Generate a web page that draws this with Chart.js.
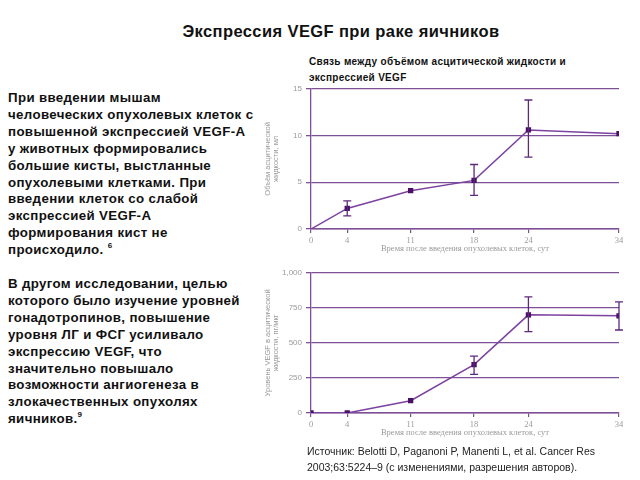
<!DOCTYPE html>
<html>
<head>
<meta charset="utf-8">
<script src="https://cdn.jsdelivr.net/npm/chart.js@4"></script>
<style>
  body { margin: 0; width: 640px; height: 480px; background: #fff; position: relative; overflow: hidden; font-family: "Liberation Sans", Arial, sans-serif; }
  #title { position: absolute; left: 0; width: 682px; top: 22px; text-align: center; font-weight: bold; font-size: 16.5px; letter-spacing: 0.4px; color: #111; }
  #text { position: absolute; left: 8px; top: 90px; width: 270px; font-weight: bold; font-size: 13.3px; letter-spacing: 0.35px; line-height: 16.9px; color: #111; }
  #text sup { font-size: 8px; vertical-align: 6px; line-height: 0; }
  #sub { position: absolute; left: 309px; top: 54px; font-weight: bold; font-size: 10px; line-height: 16px; color: #111; letter-spacing: 0.32px; }
  #source { position: absolute; left: 307px; top: 443px; font-size: 10.5px; line-height: 16px; color: #222; }
  canvas { position: absolute; }
  #c1 { left: 258px; top: 80px; }
  #c2 { left: 258px; top: 264px; }
</style>
</head>
<body>
<div id="title">Экспрессия VEGF при раке яичников</div>
<div id="sub">Связь между объёмом асцитической жидкости и<br>экспрессией VEGF</div>
<div id="text">При введении мышам<br>человеческих опухолевых клеток с<br>повышенной экспрессией VEGF-A<br>у животных формировались<br>большие кисты, выстланные<br>опухолевыми клетками. При<br>введении клеток со слабой<br>экспрессией VEGF-A<br>формирования кист не<br>происходило. <sup>6</sup><br><br>В другом исследовании, целью<br>которого было изучение уровней<br>гонадотропинов, повышение<br>уровня ЛГ и ФСГ усиливало<br>экспрессию VEGF, что<br>значительно повышало<br>возможности ангиогенеза в<br>злокачественных опухолях<br>яичников.<sup>9</sup></div>
<canvas id="c1" width="380" height="180"></canvas>
<canvas id="c2" width="380" height="180"></canvas>
<div id="source">Источник: Belotti D, Paganoni P, Manenti L, et al. Cancer Res<br>2003;63:5224–9 (с изменениями, разрешения авторов).</div>
<script>
const days = [0, 4, 11, 18, 24, 34];
const volume = [0, 2.2, 4.1, 5.2, 10.6, 10.2];
const volumeLow = [null, 1.4, null, 3.6, 7.7, null];
const volumeHigh = [null, 3.0, null, 6.9, 13.8, null];
const vegf = [0, 0, 88, 345, 700, 693];
const vegfLow = [null, null, null, 275, 580, 592];
const vegfHigh = [null, null, null, 405, 828, 793];
const volumeTicks = [0, 5, 10, 15];
const vegfTicks = [0, 250, 500, 750, 1000];
const xTitle = "Время после введения опухолевых клеток, сут";

const gridPurple = "#7e5196";
const linePurple = "#7d42a0";
const markPurple = "#4a1068";
const greyText = "#9a9a9a";

Chart.defaults.font.family = "'Liberation Sans', Arial, sans-serif";

// vertical error bars with small caps, drawn after the line
const errorBars = {
  id: "errorBars",
  afterDatasetsDraw(chart) {
    const ctx = chart.ctx;
    const xs = chart.scales.x, ys = chart.scales.y;
    chart.data.datasets.forEach(ds => {
      ds.data.forEach((p, i) => {
        if (ds.errLow[i] == null) return;
        const x = xs.getPixelForValue(p.x);
        const y1 = ys.getPixelForValue(ds.errLow[i]);
        const y2 = ys.getPixelForValue(ds.errHigh[i]);
        ctx.save();
        ctx.strokeStyle = "#5b2a7a";
        ctx.lineWidth = 1.3;
        ctx.beginPath();
        ctx.moveTo(x, y1); ctx.lineTo(x, y2);
        ctx.moveTo(x - 4, y1); ctx.lineTo(x + 4, y1);
        ctx.moveTo(x - 4, y2); ctx.lineTo(x + 4, y2);
        ctx.stroke();
        ctx.restore();
      });
    });
  }
};

function makeChart(id, values, low, high, yTicks, yTitle, firstPoint, fmt) {
  return new Chart(document.getElementById(id), {
    type: "line",
    data: {
      datasets: [{
        data: days.map((d, i) => ({ x: d, y: values[i] })),
        errLow: low,
        errHigh: high,
        borderColor: linePurple,
        borderWidth: 1.5,
        pointStyle: "rect",
        pointRadius: ctx => (ctx.dataIndex === 0 && !firstPoint) ? 0 : 2.7,
        pointBackgroundColor: markPurple,
        pointBorderColor: markPurple,
        tension: 0
      }]
    },
    options: {
      responsive: false,
      animation: false,
      layout: { padding: { top: 8, right: 19, left: 0, bottom: 0 } },
      plugins: { legend: { display: false }, tooltip: { enabled: false } },
      scales: {
        x: {
          type: "linear",
          min: 0, max: 34,
          afterBuildTicks: s => { s.ticks = days.map(v => ({ value: v })); },
          afterFit: s => { s.height = 31; },
          ticks: { color: greyText, padding: 3, font: { size: 8.5, family: "'Liberation Serif', serif" }, maxRotation: 0 },
          grid: { drawOnChartArea: false, color: gridPurple, tickLength: 4, lineWidth: 1.2 },
          border: { color: gridPurple, width: 1.5 },
          title: { display: true, text: xTitle, color: greyText, font: { size: 8.5, family: "'Liberation Serif', serif" }, padding: { top: 0, bottom: 6 } }
        },
        y: {
          min: yTicks[0], max: yTicks[yTicks.length - 1],
          afterBuildTicks: s => { s.ticks = yTicks.map(v => ({ value: v })); },
          afterFit: s => { s.width = 53; },
          ticks: { color: greyText, padding: 4, font: { size: 8 }, callback: fmt },
          grid: { color: gridPurple, lineWidth: 1.3, tickLength: 5 },
          border: { color: gridPurple, width: 1.3 },
          title: { display: true, text: yTitle, color: greyText, font: { size: 7.5, lineHeight: 1.05 }, padding: { top: 6, bottom: 0 } }
        }
      }
    },
    plugins: [errorBars]
  });
}

makeChart("c1", volume, volumeLow, volumeHigh, volumeTicks,
  ["Объём асцитической", "жидкости, мл"], false, v => v);
makeChart("c2", vegf, vegfLow, vegfHigh, vegfTicks,
  ["Уровень VEGF в асцитической", "жидкости, пг/мкг"], true, v => v.toLocaleString("en-US"));
</script>
</body>
</html>
